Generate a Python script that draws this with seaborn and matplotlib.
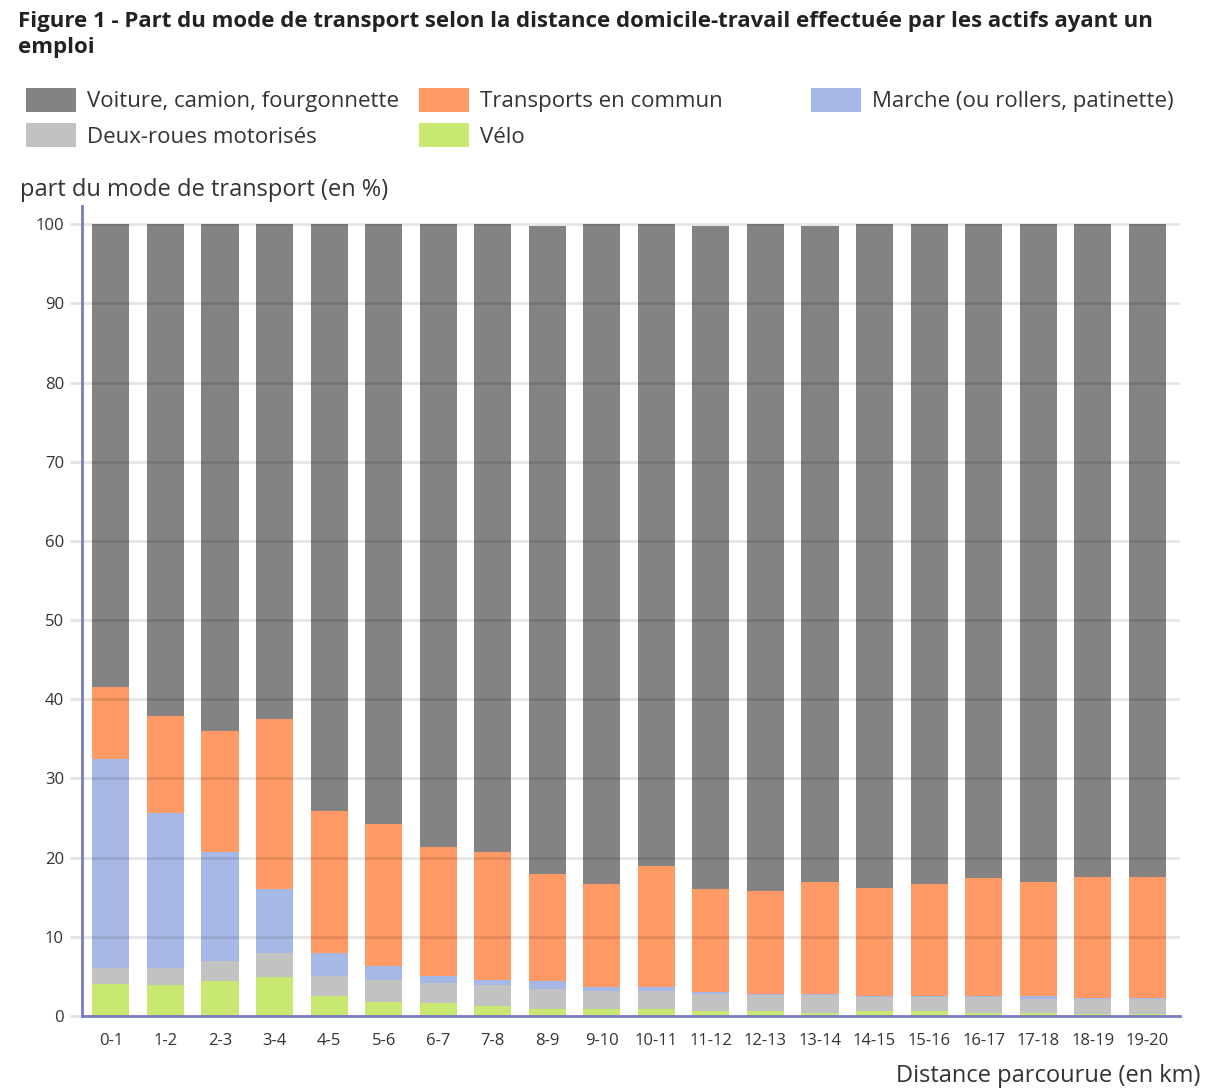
import numpy as np
import pandas as pd
import matplotlib
matplotlib.use('Agg')
import matplotlib.pyplot as plt
from matplotlib.patches import Patch
import seaborn as sns

# Distance classes (km)
distances = ['0-1', '1-2', '2-3', '3-4', '4-5', '5-6', '6-7', '7-8', '8-9', '9-10',
             '10-11', '11-12', '12-13', '13-14', '14-15', '15-16', '16-17', '17-18',
             '18-19', '19-20']

# shares in %, bottom to top
velo = [4.1, 3.9, 4.4, 4.9, 2.5, 1.8, 1.6, 1.3, 0.9, 0.9,
        0.9, 0.6, 0.6, 0.4, 0.6, 0.6, 0.4, 0.4, 0.2, 0.2]
deux_roues = [1.9, 2.1, 2.5, 3.0, 2.6, 2.8, 2.6, 2.6, 2.5, 2.3,
              2.3, 2.2, 2.0, 2.2, 1.8, 1.8, 2.0, 1.7, 2.0, 2.0]
marche = [26.5, 19.6, 13.8, 8.1, 2.8, 1.7, 0.9, 0.7, 1.0, 0.5,
          0.4, 0.2, 0.2, 0.2, 0.1, 0.1, 0.1, 0.4, 0.1, 0.1]
transports = [9.0, 12.3, 15.3, 21.5, 18.0, 18.0, 16.3, 16.1, 13.5, 13.0,
              15.4, 13.0, 13.0, 14.1, 13.7, 14.2, 14.9, 14.4, 15.3, 15.3]
voiture = [58.5, 62.1, 64.0, 62.5, 74.1, 75.7, 78.6, 79.3, 81.9, 83.3,
           81.0, 83.8, 84.2, 82.9, 83.8, 83.3, 82.6, 83.1, 82.4, 82.4]

series = [
    ('Vélo', velo, '#c9e872'),
    ('Deux-roues motorisés', deux_roues, '#c2c2c2'),
    ('Marche (ou rollers, patinette)', marche, '#a6b9e6'),
    ('Transports en commun', transports, '#ff9966'),
    ('Voiture, camion, fourgonnette', voiture, '#838383'),
]

df = pd.DataFrame({'distance': distances})
cum = np.zeros(len(distances))
for name, vals, col in series:
    cum = cum + np.array(vals)
    df[name] = cum

sns.set_theme(style='white')
plt.rcParams['font.family'] = ['Open Sans', 'DejaVu Sans']

fig = plt.figure(figsize=(12.05, 10.88), dpi=100)
ax = fig.add_axes([82 / 1205, 72 / 1088, (1180 - 82) / 1205, (1016 - 206) / 1088])

# draw cumulative layers, tallest first
for name, vals, col in reversed(series):
    sns.barplot(data=df, x='distance', y=name, color=col, saturation=1,
                width=0.68, ax=ax, zorder=2, linewidth=0, edgecolor='none')

ax.set_xlim(-0.53, 19.6)
ax.set_ylim(0, 102.3)
ax.set_yticks(range(0, 101, 10))
ax.yaxis.grid(True, color='#000000', alpha=0.1, linewidth=2)
ax.set_axisbelow(False)
for l in ax.get_ygridlines():
    l.set_zorder(3)

for s in ['top', 'right']:
    ax.spines[s].set_visible(False)
for s in ['left', 'bottom']:
    ax.spines[s].set_color('#7b7bbf')
    ax.spines[s].set_linewidth(2)
    ax.spines[s].set_zorder(4)

ax.tick_params(axis='y', length=9, width=2, color='#e2e2e2', labelsize=12,
               labelcolor='#333333', pad=4, left=True)
ax.tick_params(axis='x', length=0, labelsize=12, labelcolor='#333333', pad=12)
ax.set_xlabel('')
ax.set_ylabel('')

fig.text(20 / 1205, 1 - 190 / 1088, 'part du mode de transport (en %)',
         fontsize=17, color='#333333', va='center', ha='left')
fig.text(1200 / 1205, 1 - 1076 / 1088, 'Distance parcourue (en km)',
         fontsize=17, color='#333333', va='center', ha='right')

fig.text(18 / 1205, 1 - 11 / 1088,
         'Figure 1 - Part du mode de transport selon la distance domicile-travail '
         'effectuée par les actifs ayant un\nemploi',
         fontsize=16, fontweight='bold', color='#222222', va='top', ha='left',
         linespacing=1.3)

# legend laid out in three columns
cols = {name: col for name, vals, col in series}
legend_cols = [
    (['Voiture, camion, fourgonnette', 'Deux-roues motorisés'], 17),
    (['Transports en commun', 'Vélo'], 410),
    (['Marche (ou rollers, patinette)'], 802),
]
for names, xpix in legend_cols:
    handles = [Patch(facecolor=cols[n], edgecolor='none', label=n) for n in names]
    fig.legend(handles=handles, loc='upper left',
               bbox_to_anchor=(xpix / 1205, 1 - 79 / 1088), frameon=False,
               fontsize=16, handlelength=2.25, handleheight=1.26,
               handletextpad=0.5, labelspacing=0.5, borderaxespad=0,
               labelcolor='#333333')

fig.savefig('out.png', dpi=100)
